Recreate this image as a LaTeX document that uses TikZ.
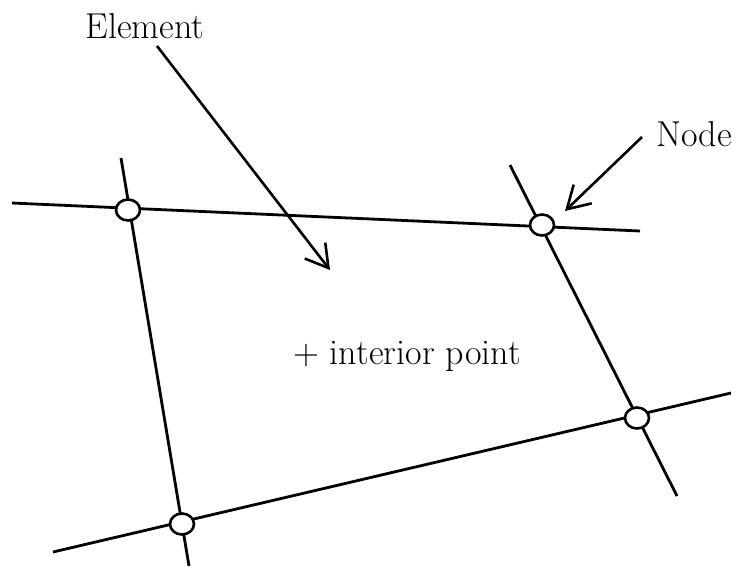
\documentclass[tikz,border=0pt]{standalone}
\usetikzlibrary{arrows.meta,shapes.geometric}
\begin{document}
\begin{tikzpicture}[x=1pt,y=-1pt,
  gridline/.style={line width=2.8pt,black},
  nodecirc/.style={ellipse,draw,line width=2.6pt,fill=white,minimum width=24pt,minimum height=21pt,inner sep=0pt},
  pointer/.style={line width=2.6pt,-{Straight Barb[length=22pt,width=26pt,line width=2.6pt]}},
  lbl/.style={font=\fontsize{36}{42}\selectfont,inner sep=0pt}]
\useasboundingbox (0,0) rectangle (749,570);
% line end points
\coordinate (t1) at (12,203);
\coordinate (t2) at (640,231);
\coordinate (l1) at (121,158);
\coordinate (l2) at (189,566);
\coordinate (r1) at (510,165);
\coordinate (r2) at (677,496);
\coordinate (b1) at (53,552);
\coordinate (b2) at (731,393);
\draw[gridline] (t1) -- (t2);
\draw[gridline] (l1) -- (l2);
\draw[gridline] (r1) -- (r2);
\draw[gridline] (b1) -- (b2);
% nodes
\node[nodecirc] (nA) at (128,210) {};
\node[nodecirc] (nB) at (542,225) {};
\node[nodecirc] (nC) at (637,418) {};
\node[nodecirc] (nD) at (182,524) {};
% labels
\node[lbl] (elem) at (145,26) {Element};
\node[lbl] (nodel) at (694,134) {Node};
\node[lbl] (interior) at (407,356) {+ interior point};
\coordinate (elemTip) at (330,270);
\coordinate (nodeTip) at (565,211);
\draw[pointer] (157,46) -- (elemTip);
\draw[pointer] (642,137) -- (nodeTip);
\end{tikzpicture}
\end{document}
